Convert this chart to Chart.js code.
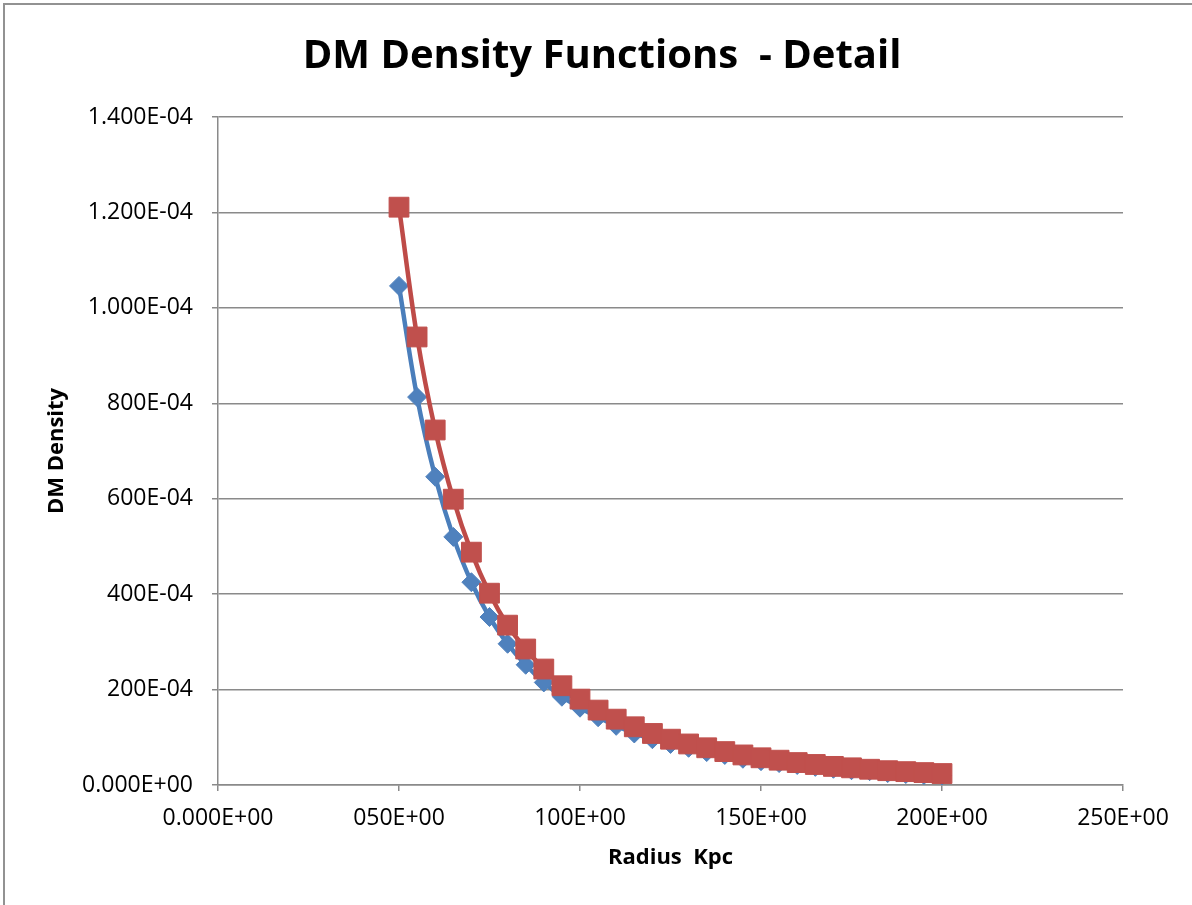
<!DOCTYPE html>
<html lang="en">
<head>
    <meta charset="UTF-8">
    <title>DM Density Functions - Detail</title>
    <script src="https://cdn.jsdelivr.net/npm/chart.js"></script>
    <style>
        body {
            margin: 0;
            background: #fff;
            overflow: hidden;
        }
        #frame {
            position: absolute;
            left: 3px;
            top: 3px;
            width: 1400px;
            height: 1100px;
            border-left: 2px solid #929292;
            border-top: 2px solid #929292;
        }
        #densityChart {
            position: absolute;
            left: 0;
            top: 0;
        }
    </style>
</head>
<body>
    <div id="frame"></div>
    <canvas id="densityChart" width="1192" height="905"></canvas>

    <script>
        // radius in kpc
        const radius = [50, 55, 60, 65, 70, 75, 80, 85, 90, 95, 100, 105, 110, 115, 120, 125,
                        130, 135, 140, 145, 150, 155, 160, 165, 170, 175, 180, 185, 190, 195, 200];

        // red squares
        const densityRed = [1.211e-4, 9.39e-5, 7.44e-5, 5.99e-5, 4.88e-5, 4.02e-5, 3.35e-5, 2.85e-5,
                            2.43e-5, 2.08e-5, 1.80e-5, 1.57e-5, 1.38e-5, 1.22e-5, 1.08e-5, 9.6e-6,
                            8.6e-6, 7.8e-6, 7.0e-6, 6.3e-6, 5.7e-6, 5.2e-6, 4.7e-6, 4.3e-6,
                            3.9e-6, 3.6e-6, 3.3e-6, 3.0e-6, 2.8e-6, 2.6e-6, 2.4e-6];

        // blue diamonds
        const densityBlue = [1.046e-4, 8.13e-5, 6.46e-5, 5.20e-5, 4.25e-5, 3.52e-5, 2.96e-5, 2.52e-5,
                             2.15e-5, 1.85e-5, 1.62e-5, 1.42e-5, 1.24e-5, 1.08e-5, 9.6e-6, 8.6e-6,
                             7.8e-6, 6.9e-6, 6.3e-6, 5.5e-6, 5.0e-6, 4.6e-6, 4.2e-6, 3.8e-6,
                             3.4e-6, 3.1e-6, 2.9e-6, 2.5e-6, 2.3e-6, 2.1e-6, 2.0e-6];

        const xTickLabels = ['0.000E+00', '050E+00', '100E+00', '150E+00', '200E+00', '250E+00'];
        const yTickLabels = ['0.000E+00', '200E-04', '400E-04', '600E-04', '800E-04',
                             '1.000E-04', '1.200E-04', '1.400E-04'];

        const gridGray = '#8a8a8a';
        const fontFamily = '"Open Sans", sans-serif';

        function toPoints(values) {
            return radius.map((r, i) => ({ x: r, y: values[i] }));
        }

        const ctx = document.getElementById('densityChart').getContext('2d');
        new Chart(ctx, {
            type: 'line',
            data: {
                datasets: [
                    {
                        label: 'Series 2',
                        data: toPoints(densityRed),
                        borderColor: '#be4b48',
                        backgroundColor: '#c0504d',
                        pointBorderColor: '#c0504d',
                        borderWidth: 4.5,
                        pointStyle: 'rect',
                        pointRadius: 14,
                        pointBorderWidth: 1,
                        tension: 0.35
                    },
                    {
                        label: 'Series 1',
                        data: toPoints(densityBlue),
                        borderColor: '#4a7ebb',
                        backgroundColor: '#4f81bd',
                        pointBorderColor: '#4f81bd',
                        borderWidth: 4.5,
                        pointStyle: 'rectRot',
                        pointRadius: 9.5,
                        pointBorderWidth: 1,
                        tension: 0.35
                    }
                ]
            },
            options: {
                responsive: false,
                animation: false,
                layout: { padding: { left: 81, right: 69, top: 0, bottom: 30 } },
                plugins: {
                    legend: { display: false },
                    tooltip: { enabled: false },
                    title: {
                        display: true,
                        text: 'DM Density Functions  - Detail',
                        color: '#000',
                        font: { family: fontFamily, size: 40, weight: 'bold' },
                        padding: { top: 33, bottom: 36 }
                    }
                },
                scales: {
                    x: {
                        type: 'linear',
                        min: 0,
                        max: 250,
                        ticks: {
                            stepSize: 50,
                            color: '#000',
                            font: { family: fontFamily, size: 23 },
                            padding: 14,
                            maxRotation: 0,
                            callback: (value, index) => xTickLabels[index]
                        },
                        grid: { drawOnChartArea: false, drawTicks: true, tickLength: 6, color: gridGray, lineWidth: 1.5 },
                        border: { color: gridGray, width: 1.5 },
                        title: {
                            display: true,
                            text: 'Radius  Kpc',
                            color: '#000',
                            font: { family: fontFamily, size: 22, weight: 'bold' },
                            padding: { top: 0, bottom: 4 }
                        },
                        afterFit: scale => { scale.height = 90; }
                    },
                    y: {
                        min: 0,
                        max: 1.4e-4,
                        ticks: {
                            stepSize: 2e-5,
                            color: '#000',
                            font: { family: fontFamily, size: 23 },
                            padding: 19,
                            callback: (value, index) => yTickLabels[index]
                        },
                        grid: { color: gridGray, lineWidth: 1.5, tickLength: 6 },
                        border: { color: gridGray, width: 1.5 },
                        title: {
                            display: true,
                            text: 'DM Density',
                            color: '#000',
                            font: { family: fontFamily, size: 22, weight: 'bold' },
                            padding: { top: -37, bottom: 0 }
                        },
                        afterFit: scale => { scale.width = 137; }
                    }
                }
            }
        });
    </script>
</body>
</html>
